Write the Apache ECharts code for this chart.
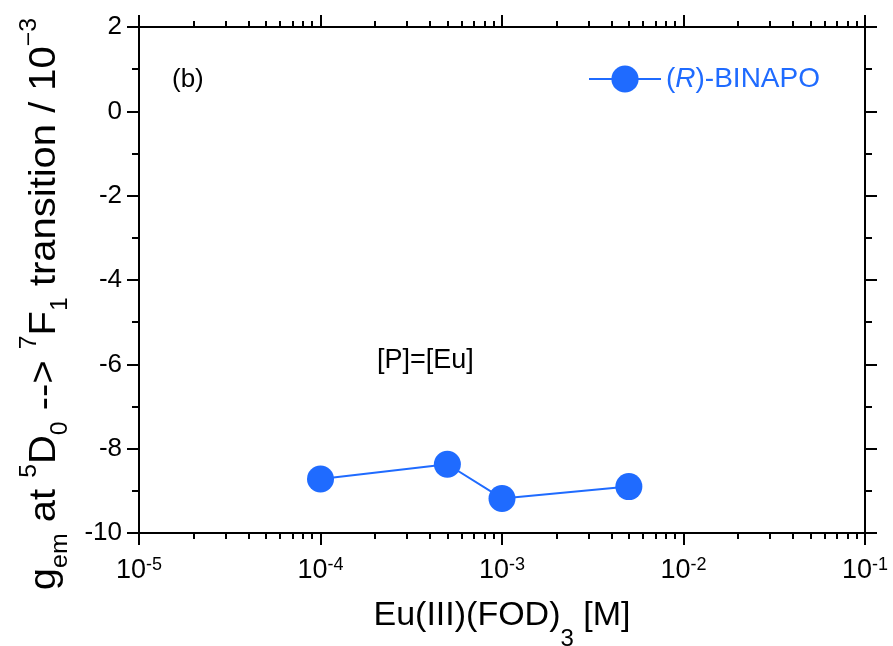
<!DOCTYPE html>
<html>
<head>
<meta charset="utf-8">
<script src="https://cdn.jsdelivr.net/npm/echarts@6/dist/echarts.min.js"></script>
<style>
html,body{margin:0;padding:0;background:#fff;}
#chart{width:893px;height:646px;}
</style>
</head>
<body>
<div id="chart"></div>
<script>
// ---- data ----
const concentrations = [1e-4, 5e-4, 1e-3, 5e-3];
const gemValues = [-8.72, -8.37, -9.18, -8.90];
const seriesName = '(R)-BINAPO';
const xTickExponents = [-5, -4, -3, -2, -1];
const yTicks = [2, 0, -2, -4, -6, -8, -10];

const FONT = '"Liberation Sans", Arial, sans-serif';
const BLUE = '#1f6bff';
const chart = echarts.init(document.getElementById('chart'));

const supLabelRich = {
  b: {fontSize: 27, fontFamily: FONT, color: '#000', lineHeight: 30, verticalAlign: 'middle'},
  s: {fontSize: 18, fontFamily: FONT, color: '#000', lineHeight: 30, verticalAlign: 'top'}
};

function expLabel(v) {
  const e = Math.round(Math.log10(v));
  return '{b|10}{s|' + e + '}';
}

const axisLineStyle = {color: '#000', width: 2};

const option = {
  animation: false,
  backgroundColor: '#fff',
  grid: {left: 139, right: 28, top: 27, bottom: 113, containLabel: false, outerBoundsMode: 'none'},
  legend: {
    data: [seriesName],
    left: 583, top: 60,
    itemWidth: 72, itemHeight: 34,
    formatter: function () { return '({i|R})-BINAPO'; },
    textStyle: {
      fontSize: 28, fontFamily: FONT, color: BLUE,
      rich: {i: {fontSize: 28, fontFamily: FONT, color: BLUE, fontStyle: 'italic'}}
    }
  },
  xAxis: [
    {
      type: 'log', logBase: 10, min: 1e-5, max: 1e-1, position: 'bottom',
      axisLine: {onZero: false, lineStyle: axisLineStyle},
      axisTick: {inside: false, length: 12, lineStyle: axisLineStyle},
      minorTick: {show: true, splitNumber: 9, length: 6, lineStyle: axisLineStyle},
      splitLine: {show: false},
      axisLabel: {margin: 23, formatter: expLabel, rich: supLabelRich},
      name: '{a|Eu(III)(FOD)}{u|3}{a| [M]}',
      nameLocation: 'middle', nameGap: 66,
      nameTextStyle: {
        rich: {
          a: {fontSize: 34, fontFamily: FONT, color: '#000', lineHeight: 52, verticalAlign: 'top'},
          u: {fontSize: 24, fontFamily: FONT, color: '#000', lineHeight: 52, verticalAlign: 'bottom'}
        }
      }
    },
    {
      type: 'log', logBase: 10, min: 1e-5, max: 1e-1, position: 'top',
      axisLine: {onZero: false, lineStyle: axisLineStyle},
      axisTick: {inside: false, length: 12, lineStyle: axisLineStyle},
      minorTick: {show: true, splitNumber: 9, length: 6, lineStyle: axisLineStyle},
      splitLine: {show: false},
      axisLabel: {show: false}
    }
  ],
  yAxis: [
    {
      type: 'value', min: -10, max: 2, interval: 2, position: 'left',
      axisLine: {show: true, onZero: false, lineStyle: axisLineStyle},
      axisTick: {show: true, inside: false, length: 12, lineStyle: axisLineStyle},
      minorTick: {show: true, splitNumber: 2, length: 7, lineStyle: axisLineStyle},
      splitLine: {show: false},
      axisLabel: {margin: 17, fontSize: 26, fontFamily: FONT, color: '#000'}
    },
    {
      type: 'value', min: -10, max: 2, interval: 2, position: 'right',
      axisLine: {show: true, onZero: false, lineStyle: axisLineStyle},
      axisTick: {show: true, inside: false, length: 12, lineStyle: axisLineStyle},
      minorTick: {show: true, splitNumber: 2, length: 7, lineStyle: axisLineStyle},
      splitLine: {show: false},
      axisLabel: {show: false}
    }
  ],
  series: [{
    name: seriesName,
    type: 'line',
    xAxisIndex: 0, yAxisIndex: 0,
    data: concentrations.map((x, i) => [x, gemValues[i]]),
    symbol: 'circle', symbolSize: 27,
    lineStyle: {color: BLUE, width: 2},
    itemStyle: {color: BLUE},
    z: 3
  }],
  graphic: [
    {type: 'text', left: 172, top: 67,
     style: {text: '(b)', font: '26px ' + FONT, fill: '#000'}},
    {type: 'text', left: 377, top: 347,
     style: {text: '[P]=[Eu]', font: '27px ' + FONT, fill: '#000'}},
    {type: 'text', x: 45, y: 304, rotation: Math.PI / 2, scaleX: 1.08,
     style: {
       text: '{m|g}{d|em}{m| at }{p|5}{m|D}{d|0}{m| --> }{p|7}{m|F}{d|1}{m| transition / 10}{p|\u22123}',
       align: 'center', verticalAlign: 'middle',
       rich: {
         m: {fontSize: 37, fontFamily: FONT, fill: '#000', lineHeight: 54, verticalAlign: 'middle'},
         d: {fontSize: 23, fontFamily: FONT, fill: '#000', lineHeight: 54, verticalAlign: 'bottom'},
         p: {fontSize: 23, fontFamily: FONT, fill: '#000', lineHeight: 54, verticalAlign: 'top'}
       }
     }}
  ]
};
chart.setOption(option);
</script>
</body>
</html>
